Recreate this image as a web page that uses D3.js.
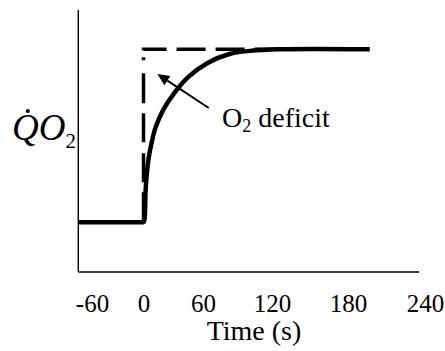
<!DOCTYPE html>
<html>
<head>
<meta charset="utf-8">
<script src="https://cdn.jsdelivr.net/npm/d3@7"></script>
<style>
  html, body { margin: 0; padding: 0; background: #fff; }
  svg { display: block; }
  text { font-family: "Liberation Serif", "Times New Roman", serif; fill: #000; }
</style>
</head>
<body>
<svg id="chart" width="445" height="351"></svg>
<script>
// ---- data ----
const xTickValues = [-60, 0, 60, 120, 180, 240];
const xAxisExtent = [-76, 235.5];
const yAxisExtent = [0, 100];

// measured O2 uptake response (solid)
const timeBaseline = [-76, -1];
const vo2Baseline  = [19, 19];
const timeMeasured = [-1, 0, 1, 2, 3, 5, 8, 12, 20, 31, 45, 64, 83, 101, 126, 197];
const vo2Measured  = [19, 19, 20, 30, 36, 43, 49, 55, 62, 68.3, 74.4, 79.8, 83.2, 84.4, 85, 85];

// ideal step demand (dashed)
const timeDemand = [0, 0, 197];
const vo2Demand  = [19, 85, 85];

// annotation
const annotText = "deficit";
const arrowFrom = [65, 62.6];
const arrowTo   = [14, 75.6];
const annotAt   = [76.5, 55.3];

// ---- drawing ----
const svg = d3.select("#chart");

const x = d3.scaleLinear()
  .domain([-60, 0, 60, 120, 180, 240])
  .range([92, 143.5, 203, 272, 348, 425]);
const y = d3.scaleLinear().domain(yAxisExtent).range([272, 10]);

// axis lines
svg.append("line")
  .attr("x1", x(xAxisExtent[0])).attr("x2", x(xAxisExtent[0]))
  .attr("y1", y(yAxisExtent[0])).attr("y2", y(yAxisExtent[1]))
  .attr("stroke", "#000").attr("stroke-width", 1.4);
svg.append("line")
  .attr("x1", x(xAxisExtent[0])).attr("x2", x(xAxisExtent[1]))
  .attr("y1", y(0)).attr("y2", y(0))
  .attr("stroke", "#000").attr("stroke-width", 1.4);

// x tick labels through axis
const gx = svg.append("g")
  .attr("transform", `translate(0,${y(0)})`)
  .call(d3.axisBottom(x).tickValues(xTickValues).tickSize(0).tickFormat(d3.format("d")));
gx.select(".domain").remove();
gx.selectAll("text")
  .attr("y", 40).attr("dy", null)
  .style("font-family", "'Liberation Serif', serif")
  .style("font-size", "25px")
  .attr("fill", "#000")
  .text(d => d < 0 ? "-" + Math.abs(d) : String(d));

// x title
svg.append("text")
  .attr("x", 254).attr("y", 340)
  .attr("text-anchor", "middle")
  .style("font-size", "28px")
  .text("Time (s)");

// y title
const yt = svg.append("text")
  .attr("x", 12).attr("y", 140)
  .style("font-size", "37px");
yt.append("tspan").style("font-style", "italic").text("Q\u0307O");
yt.append("tspan").attr("dy", 8).style("font-size", "21px").text("2");

// dashed demand line
const demand = timeDemand.map((t, i) => [t, vo2Demand[i]]);
const lineGen = d3.line().x(d => x(d[0])).y(d => y(d[1]));
const dashPath = svg.append("path")
  .datum(demand)
  .attr("d", lineGen)
  .attr("fill", "none")
  .attr("stroke", "#000")
  .attr("stroke-width", 3.5);
const dashLen = dashPath.node().getTotalLength();
const dashes = [30, 10, 29, 11, 29, 10, 30, 13, 3, 7];
let acc = d3.sum(dashes);
while (acc < dashLen + 40) {
  const isDash = dashes.length % 2 === 0;
  const v = isDash ? (dashes.length === 10 ? 24 : 29) : 10;
  dashes.push(v); acc += v;
}
dashPath.attr("stroke-dasharray", dashes.join(","));

// measured response: flat baseline then smooth rise
const baseline = timeBaseline.map((t, i) => [t, vo2Baseline[i]]);
const measured = timeMeasured.map((t, i) => [t, vo2Measured[i]]);
const pathStr = lineGen(baseline) +
  d3.line().x(d => x(d[0])).y(d => y(d[1])).curve(d3.curveCatmullRom.alpha(0.5))(measured).replace(/^M/, "L");
svg.append("path")
  .attr("d", pathStr)
  .attr("fill", "none")
  .attr("stroke", "#000")
  .attr("stroke-width", 4.5)
  .attr("stroke-linejoin", "round");

// arrow
const ax1 = x(arrowFrom[0]), ay1 = y(arrowFrom[1]);
const ax2 = x(arrowTo[0]), ay2 = y(arrowTo[1]);
const ang = Math.atan2(ay2 - ay1, ax2 - ax1);
const headLen = 12, headW = 5.5;
const bx = ax2 - headLen * Math.cos(ang), by = ay2 - headLen * Math.sin(ang);
svg.append("line")
  .attr("x1", ax1).attr("y1", ay1).attr("x2", bx).attr("y2", by)
  .attr("stroke", "#000").attr("stroke-width", 2);
svg.append("polygon")
  .attr("points", [
    [ax2, ay2],
    [bx + headW * Math.sin(ang), by - headW * Math.cos(ang)],
    [bx - headW * Math.sin(ang), by + headW * Math.cos(ang)]
  ].map(p => p.join(",")).join(" "))
  .attr("fill", "#000");

// annotation text
const at = svg.append("text")
  .attr("x", x(annotAt[0])).attr("y", y(annotAt[1]))
  .style("font-size", "28px");
at.append("tspan").text("O");
at.append("tspan").attr("dy", 5).style("font-size", "18px").text("2");
at.append("tspan").attr("dy", -5).text(" " + annotText);
</script>
</body>
</html>
